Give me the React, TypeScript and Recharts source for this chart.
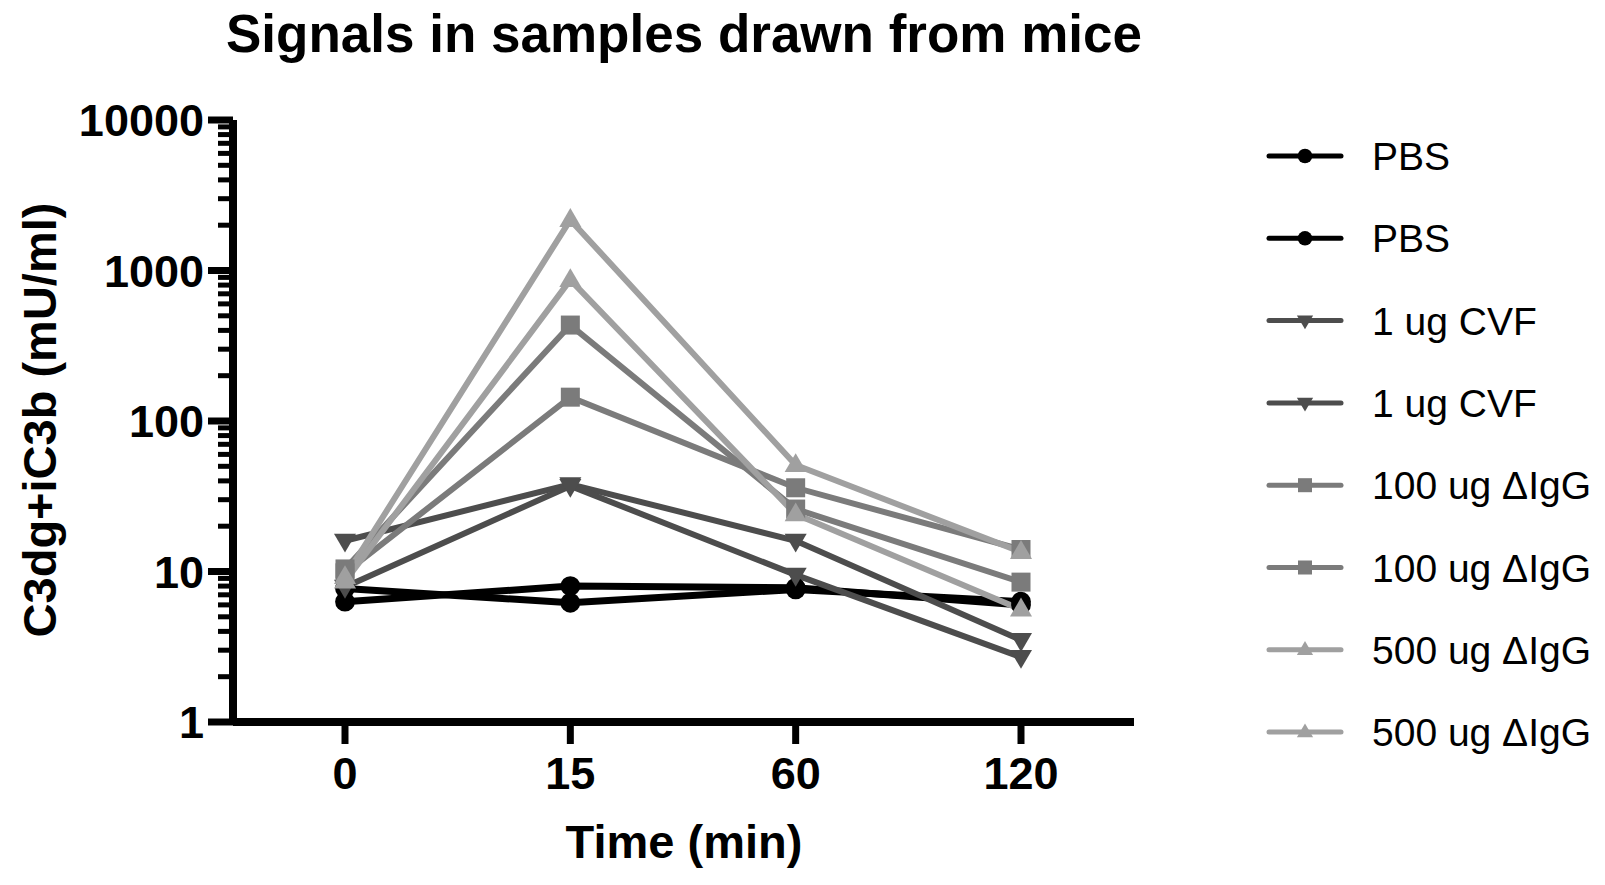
import { Legend, Line, LineChart, XAxis, YAxis } from "recharts";

const times = ["0", "15", "60", "120"];

const pbsA = [7.7, 6.2, 7.6, 6.3];
const pbsB = [6.3, 8.0, 7.8, 6.0];
const cvfA = [16, 38, 16, 3.5];
const cvfB = [7.9, 37, 9.5, 2.7];
const igg100A = [10.4, 434, 26, 8.5];
const igg100B = [9.8, 144, 36, 14];
const igg500A = [9.2, 2170, 51, 13.5];
const igg500B = [8.6, 865, 24, 5.6];

const majorTicks = [1, 10, 100, 1000, 10000];
const minorTicks = [
  2, 3, 4, 5, 6, 7, 8, 9,
  20, 30, 40, 50, 60, 70, 80, 90,
  200, 300, 400, 500, 600, 700, 800, 900,
  2000, 3000, 4000, 5000, 6000, 7000, 8000, 9000,
];

type Shape = "circle" | "square" | "down" | "up";

const series: { key: string; name: string; color: string; shape: Shape; width: number; values: number[] }[] = [
  { key: "pbsA", name: "PBS", color: "#000000", shape: "circle", width: 7, values: pbsA },
  { key: "pbsB", name: "PBS", color: "#000000", shape: "circle", width: 7, values: pbsB },
  { key: "cvfA", name: "1 ug CVF", color: "#4d4d4d", shape: "down", width: 6, values: cvfA },
  { key: "cvfB", name: "1 ug CVF", color: "#4d4d4d", shape: "down", width: 6, values: cvfB },
  { key: "igg100A", name: "100 ug \u0394IgG", color: "#7b7b7b", shape: "square", width: 6, values: igg100A },
  { key: "igg100B", name: "100 ug \u0394IgG", color: "#7b7b7b", shape: "square", width: 6, values: igg100B },
  { key: "igg500A", name: "500 ug \u0394IgG", color: "#a0a0a0", shape: "up", width: 6, values: igg500A },
  { key: "igg500B", name: "500 ug \u0394IgG", color: "#a0a0a0", shape: "up", width: 6, values: igg500B },
];

const data = times.map((t, i) => {
  const row: Record<string, string | number> = { time: t };
  series.forEach((s) => (row[s.key] = s.values[i]));
  return row;
});

const FONT = "'Liberation Sans', Arial, Helvetica, sans-serif";

function Marker({ cx, cy, shape, color, size }: { cx: number; cy: number; shape: Shape; color: string; size: number }) {
  if (shape === "circle") return <circle cx={cx} cy={cy} r={size * 0.52} fill={color} />;
  if (shape === "square") {
    const h = size * 0.5;
    return <rect x={cx - h} y={cy - h} width={h * 2} height={h * 2} fill={color} />;
  }
  const w = size * 0.58;
  const t = size * 0.62;
  if (shape === "down") {
    return <polygon points={`${cx - w},${cy - t * 0.6} ${cx + w},${cy - t * 0.6} ${cx},${cy + t}`} fill={color} />;
  }
  return <polygon points={`${cx - w},${cy + t * 0.6} ${cx + w},${cy + t * 0.6} ${cx},${cy - t}`} fill={color} />;
}

function YTick(props: any) {
  const { x, y, payload } = props;
  const major = majorTicks.includes(payload.value);
  return (
    <g>
      <line x1={x - (major ? 25 : 15)} x2={x} y1={y} y2={y} stroke="#000" strokeWidth={major ? 7 : 5} />
      {major && (
        <text x={x - 29} y={y + 16} textAnchor="end" fontFamily={FONT} fontWeight="bold" fontSize={45} fill="#000">
          {payload.value}
        </text>
      )}
    </g>
  );
}

function XTick(props: any) {
  const { x, y, payload } = props;
  return (
    <text x={x} y={y + 45} textAnchor="middle" fontFamily={FONT} fontWeight="bold" fontSize={45} fill="#000">
      {payload.value}
    </text>
  );
}

function LegendBox() {
  return (
    <svg width={345} height={680} style={{ display: "block" }}>
      {series.map((s, i) => {
        const cy = 46 + i * 82.3;
        return (
          <g key={s.key}>
            <line x1={9} x2={81} y1={cy} y2={cy} stroke={s.color} strokeWidth={5} strokeLinecap="round" />
            <Marker cx={45} cy={cy} shape={s.shape} color={s.color} size={14} />
            <text x={112} y={cy + 14} fontFamily={FONT} fontSize={39} fill="#000">
              {s.name}
            </text>
          </g>
        );
      })}
    </svg>
  );
}

export default function App() {
  return (
    <div style={{ position: "absolute", left: 0, top: 0, width: 1605, height: 885, background: "#fff", overflow: "hidden" }}>
      <div
        style={{
          position: "absolute",
          left: 184,
          width: 1000,
          top: 3,
          lineHeight: "normal",
          textAlign: "center",
          fontFamily: FONT,
          fontWeight: "bold",
          fontSize: 53,
          color: "#000",
          whiteSpace: "nowrap",
        }}
      >
        Signals in samples drawn from mice
      </div>
      <LineChart width={1605} height={885} data={data} margin={{ top: 120, right: 471, bottom: 0, left: 0 }}>
        <XAxis
          dataKey="time"
          height={163}
          padding={{ left: 112, right: 113 }}
          axisLine={{ stroke: "#000", strokeWidth: 8 }}
          tickLine={{ stroke: "#000", strokeWidth: 7 }}
          tickSize={22}
          tickMargin={0}
          tick={<XTick />}
          label={{
            content: () => (
              <text x={684} y={858} textAnchor="middle" fontFamily={FONT} fontWeight="bold" fontSize={47} fill="#000">
                Time (min)
              </text>
            ),
          }}
        />
        <YAxis
          scale="log"
          domain={[1, 10000]}
          ticks={[...majorTicks, ...minorTicks].sort((a, b) => a - b)}
          interval={0}
          allowDataOverflow
          width={233}
          axisLine={{ stroke: "#000", strokeWidth: 8 }}
          tickLine={false}
          tickSize={0}
          tickMargin={0}
          tick={<YTick />}
          label={{
            content: () => (
              <text
                x={0}
                y={0}
                transform="translate(56 420) rotate(-90)"
                textAnchor="middle"
                fontFamily={FONT}
                fontWeight="bold"
                fontSize={47}
                fill="#000"
              >
                C3dg+iC3b (mU/ml)
              </text>
            ),
          }}
        />
        <Legend
          layout="vertical"
          align="center"
          verticalAlign="middle"
          wrapperStyle={{ position: "absolute", left: 1260, top: 110, width: 345, height: 680 }}
          content={() => <LegendBox />}
        />
        {series.map((s) => (
          <Line
            key={s.key}
            dataKey={s.key}
            name={s.name}
            stroke={s.color}
            strokeWidth={s.width}
            isAnimationActive={false}
            dot={(p: any) => <Marker key={`${s.key}-${p.index}`} cx={p.cx} cy={p.cy} shape={s.shape} color={s.color} size={19} />}
            activeDot={false}
          />
        ))}
      </LineChart>
    </div>
  );
}
